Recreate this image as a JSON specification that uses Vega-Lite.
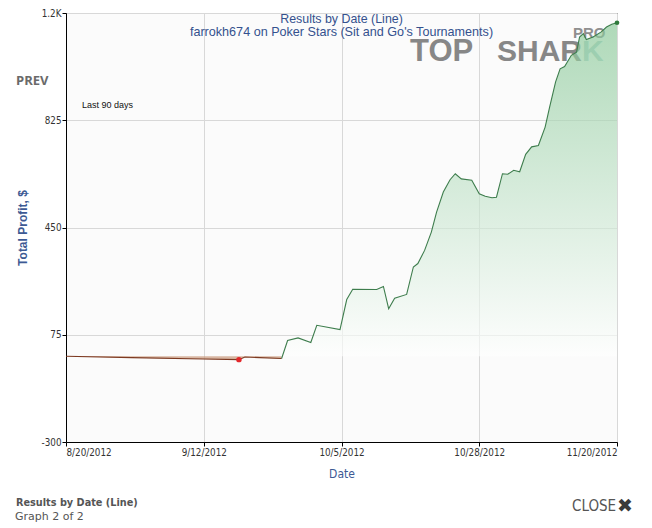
{
  "$schema": "https://vega.github.io/schema/vega-lite/v6.json",
  "width": 551,
  "height": 429,
  "autosize": "none",
  "padding": {"left": 66, "top": 13, "right": 35, "bottom": 86},
  "background": "white",
  "config": {
    "view": {"stroke": "#000000", "strokeWidth": 1, "fill": "#fbfbfb"},
    "axis": {
      "labelFont": "DejaVu Sans Condensed, sans-serif",
      "labelFontSize": 9.8,
      "labelColor": "#333333",
      "tickColor": "#000000",
      "tickSize": 4,
      "domainColor": "#000000",
      "gridColor": "#d8d8d8",
      "gridWidth": 1,
      "titleFont": "Liberation Sans, Arial, sans-serif",
      "titleFontSize": 12,
      "titleFontWeight": "bold",
      "titleColor": "#3d5a94"
    }
  },
  "datasets": {
    "profit": [
      {"date": "2012-08-20T00:00:00", "value": 0, "seg": "neg"},
      {"date": "2012-08-31T00:00:00", "value": -5, "seg": "neg"},
      {"date": "2012-09-11T21:00:00", "value": -10, "seg": "neg"},
      {"date": "2012-09-17T21:00:00", "value": -12, "seg": "neg"},
      {"date": "2012-09-18T21:00:00", "value": -3, "seg": "neg"},
      {"date": "2012-09-21T09:00:00", "value": -5, "seg": "neg"},
      {"date": "2012-09-25T00:00:00", "value": -8, "seg": "neg"},
      {"date": "2012-09-25T00:00:00", "value": -8, "seg": "pos"},
      {"date": "2012-09-26T00:00:00", "value": 55, "seg": "pos"},
      {"date": "2012-09-27T18:00:00", "value": 64, "seg": "pos"},
      {"date": "2012-09-29T21:00:00", "value": 48, "seg": "pos"},
      {"date": "2012-09-30T21:00:00", "value": 108, "seg": "pos"},
      {"date": "2012-10-04T18:00:00", "value": 93, "seg": "pos"},
      {"date": "2012-10-05T21:00:00", "value": 198, "seg": "pos"},
      {"date": "2012-10-06T21:00:00", "value": 234, "seg": "pos"},
      {"date": "2012-10-10T21:00:00", "value": 233, "seg": "pos"},
      {"date": "2012-10-12T00:00:00", "value": 244, "seg": "pos"},
      {"date": "2012-10-12T21:00:00", "value": 166, "seg": "pos"},
      {"date": "2012-10-13T21:00:00", "value": 203, "seg": "pos"},
      {"date": "2012-10-15T21:00:00", "value": 216, "seg": "pos"},
      {"date": "2012-10-17T00:00:00", "value": 312, "seg": "pos"},
      {"date": "2012-10-17T18:00:00", "value": 324, "seg": "pos"},
      {"date": "2012-10-18T21:00:00", "value": 370, "seg": "pos"},
      {"date": "2012-10-20T00:00:00", "value": 434, "seg": "pos"},
      {"date": "2012-10-20T21:00:00", "value": 504, "seg": "pos"},
      {"date": "2012-10-22T00:00:00", "value": 574, "seg": "pos"},
      {"date": "2012-10-23T03:00:00", "value": 617, "seg": "pos"},
      {"date": "2012-10-24T00:00:00", "value": 638, "seg": "pos"},
      {"date": "2012-10-25T00:00:00", "value": 620, "seg": "pos"},
      {"date": "2012-10-26T18:00:00", "value": 615, "seg": "pos"},
      {"date": "2012-10-28T00:00:00", "value": 568, "seg": "pos"},
      {"date": "2012-10-29T00:00:00", "value": 559, "seg": "pos"},
      {"date": "2012-10-30T03:00:00", "value": 554, "seg": "pos"},
      {"date": "2012-10-30T21:00:00", "value": 556, "seg": "pos"},
      {"date": "2012-10-31T21:00:00", "value": 638, "seg": "pos"},
      {"date": "2012-11-01T18:00:00", "value": 636, "seg": "pos"},
      {"date": "2012-11-02T18:00:00", "value": 650, "seg": "pos"},
      {"date": "2012-11-03T18:00:00", "value": 645, "seg": "pos"},
      {"date": "2012-11-04T18:00:00", "value": 706, "seg": "pos"},
      {"date": "2012-11-05T18:00:00", "value": 732, "seg": "pos"},
      {"date": "2012-11-06T21:00:00", "value": 737, "seg": "pos"},
      {"date": "2012-11-08T00:00:00", "value": 801, "seg": "pos"},
      {"date": "2012-11-08T18:00:00", "value": 871, "seg": "pos"},
      {"date": "2012-11-09T18:00:00", "value": 959, "seg": "pos"},
      {"date": "2012-11-10T12:00:00", "value": 1005, "seg": "pos"},
      {"date": "2012-11-11T06:00:00", "value": 1013, "seg": "pos"},
      {"date": "2012-11-12T09:00:00", "value": 1052, "seg": "pos"},
      {"date": "2012-11-13T06:00:00", "value": 1063, "seg": "pos"},
      {"date": "2012-11-13T18:00:00", "value": 1116, "seg": "pos"},
      {"date": "2012-11-14T09:00:00", "value": 1128, "seg": "pos"},
      {"date": "2012-11-14T21:00:00", "value": 1107, "seg": "pos"},
      {"date": "2012-11-16T00:00:00", "value": 1116, "seg": "pos"},
      {"date": "2012-11-17T09:00:00", "value": 1134, "seg": "pos"},
      {"date": "2012-11-18T06:00:00", "value": 1151, "seg": "pos"},
      {"date": "2012-11-19T03:00:00", "value": 1161, "seg": "pos"},
      {"date": "2012-11-20T00:00:00", "value": 1166, "seg": "pos"}
    ],
    "marks": [
      {"date": "2012-09-17T21:00:00", "value": -12, "kind": "min"},
      {"date": "2012-11-20T00:00:00", "value": 1166, "kind": "last"}
    ]
  },
  "layer": [
    {
      "data": {"values": [{"label": "TOP"}]},
      "mark": {"type": "text", "font": "Liberation Sans, Arial, sans-serif", "fontWeight": "bold", "fontSize": 31, "color": "#878787", "align": "left", "baseline": "alphabetic", "dx": -207, "dy": 47.5},
      "encoding": {
        "x": {"datum": {"year": 2012, "month": 11, "date": 20}, "type": "temporal"},
        "y": {"datum": 1200, "type": "quantitative"},
        "text": {"field": "label"}
      }
    },
    {
      "data": {"values": [{"label": "SHAR"}]},
      "mark": {"type": "text", "font": "Liberation Sans, Arial, sans-serif", "fontWeight": "bold", "fontSize": 30, "color": "#878787", "align": "left", "baseline": "alphabetic", "dx": -120, "dy": 47.5},
      "encoding": {
        "x": {"datum": {"year": 2012, "month": 11, "date": 20}, "type": "temporal"},
        "y": {"datum": 1200, "type": "quantitative"},
        "text": {"field": "label"}
      }
    },
    {
      "data": {"values": [{"label": "K"}]},
      "mark": {"type": "text", "font": "Liberation Sans, Arial, sans-serif", "fontWeight": "bold", "fontSize": 30, "color": "#b3d3d1", "align": "left", "baseline": "alphabetic", "dx": -35, "dy": 47.5},
      "encoding": {
        "x": {"datum": {"year": 2012, "month": 11, "date": 20}, "type": "temporal"},
        "y": {"datum": 1200, "type": "quantitative"},
        "text": {"field": "label"}
      }
    },
    {
      "data": {"values": [{"label": "PRO"}]},
      "mark": {"type": "text", "font": "Liberation Sans, Arial, sans-serif", "fontWeight": "bold", "fontSize": 15, "color": "#8f8f8f", "align": "left", "baseline": "alphabetic", "dx": -44, "dy": 25},
      "encoding": {
        "x": {"datum": {"year": 2012, "month": 11, "date": 20}, "type": "temporal"},
        "y": {"datum": 1200, "type": "quantitative"},
        "text": {"field": "label"}
      }
    },
    {
      "data": {"name": "profit"},
      "transform": [{"filter": "datum.seg === 'pos'"}],
      "mark": {
        "type": "area",
        "opacity": 0.65,
        "color": {
          "gradient": "linear",
          "x1": 0, "y1": 0, "x2": 0, "y2": 1,
          "stops": [
            {"offset": 0, "color": "#86c795"},
            {"offset": 1, "color": "#ffffff"}
          ]
        }
      },
      "encoding": {
        "x": {
          "field": "date", "type": "temporal",
          "scale": {"domain": [{"year": 2012, "month": 8, "date": 20}, {"year": 2012, "month": 11, "date": 20}], "nice": false},
          "axis": {
            "title": "Date",
            "titleFontWeight": "normal",
            "titleFont": "DejaVu Sans Condensed, sans-serif",
            "titleFontSize": 12,
            "titlePadding": 12,
            "values": [
              {"year": 2012, "month": 8, "date": 20},
              {"year": 2012, "month": 9, "date": 12},
              {"year": 2012, "month": 10, "date": 5},
              {"year": 2012, "month": 10, "date": 28},
              {"year": 2012, "month": 11, "date": 20}
            ],
            "format": "%-m/%-d/%Y",
            "labelOverlap": false,
            "labelBound": false,
            "labelPadding": 1,
            "grid": true
          }
        },
        "y": {
          "field": "value", "type": "quantitative",
          "scale": {"domain": [-300, 1200], "nice": false, "zero": false},
          "axis": {
            "title": "Total Profit, $",
            "titleX": -44,
            "titleBaseline": "middle",
            "values": [-300, 75, 450, 825, 1200],
            "labelExpr": "datum.value >= 1000 ? format(datum.value / 1000, '.1f') + 'K' : '' + datum.value",
            "labelPadding": 1,
            "grid": true
          }
        },
        "y2": {"datum": 0}
      }
    },
    {
      "data": {"name": "profit"},
      "transform": [{"filter": "datum.seg === 'neg'"}],
      "mark": {"type": "area", "color": "#c99a7e", "opacity": 0.7},
      "encoding": {
        "x": {"field": "date", "type": "temporal"},
        "y": {"field": "value", "type": "quantitative"},
        "y2": {"datum": 0}
      }
    },
    {
      "mark": {"type": "rule", "color": "#6e1c1c", "strokeWidth": 1.3},
      "encoding": {"y": {"datum": 0, "type": "quantitative"}}
    },
    {
      "data": {"name": "profit"},
      "mark": {"type": "line", "strokeWidth": 1.1},
      "encoding": {
        "x": {"field": "date", "type": "temporal"},
        "y": {"field": "value", "type": "quantitative"},
        "color": {"field": "seg", "type": "nominal", "scale": {"domain": ["neg", "pos"], "range": ["#7d3a22", "#3e7d4d"]}, "legend": null}
      }
    },
    {
      "data": {"name": "marks"},
      "transform": [{"filter": "datum.kind === 'min'"}],
      "mark": {"type": "point", "filled": true, "size": 30, "color": "#e3262a", "opacity": 1},
      "encoding": {
        "x": {"field": "date", "type": "temporal"},
        "y": {"field": "value", "type": "quantitative"}
      }
    },
    {
      "data": {"name": "marks"},
      "transform": [{"filter": "datum.kind === 'last'"}],
      "mark": {"type": "point", "filled": true, "size": 22, "color": "#2f7a3c", "opacity": 1},
      "encoding": {
        "x": {"field": "date", "type": "temporal"},
        "y": {"field": "value", "type": "quantitative"}
      }
    },
    {
      "data": {"values": [{"label": "Results by Date (Line)"}]},
      "mark": {"type": "text", "font": "Liberation Sans, Arial, sans-serif", "fontSize": 12.4, "color": "#34518e", "align": "center", "baseline": "alphabetic", "dy": 9.5},
      "encoding": {
        "x": {"datum": {"year": 2012, "month": 10, "date": 5}, "type": "temporal"},
        "y": {"datum": 1200, "type": "quantitative"},
        "text": {"field": "label"}
      }
    },
    {
      "data": {"values": [{"label": "farrokh674 on Poker Stars (Sit and Go's Tournaments)"}]},
      "mark": {"type": "text", "font": "Liberation Sans, Arial, sans-serif", "fontSize": 12.6, "color": "#34518e", "align": "center", "baseline": "alphabetic", "dy": 22.5},
      "encoding": {
        "x": {"datum": {"year": 2012, "month": 10, "date": 5}, "type": "temporal"},
        "y": {"datum": 1200, "type": "quantitative"},
        "text": {"field": "label"}
      }
    },
    {
      "data": {"values": [{"label": "Last 90 days"}]},
      "mark": {"type": "text", "font": "Liberation Sans, Arial, sans-serif", "fontSize": 9, "color": "#111111", "align": "left", "baseline": "middle", "dx": 16},
      "encoding": {
        "x": {"datum": {"year": 2012, "month": 8, "date": 20}, "type": "temporal"},
        "y": {"datum": 877, "type": "quantitative"},
        "text": {"field": "label"}
      }
    },
    {
      "data": {"values": [{"label": "PREV"}]},
      "mark": {"type": "text", "font": "Open Sans, Liberation Sans, sans-serif", "fontWeight": "bold", "fontSize": 13, "color": "#6a6a6a", "align": "left", "baseline": "middle", "dx": -50},
      "encoding": {
        "x": {"datum": {"year": 2012, "month": 8, "date": 20}, "type": "temporal"},
        "y": {"datum": 961, "type": "quantitative"},
        "text": {"field": "label"}
      }
    },
    {
      "data": {"values": [{"label": "Results by Date (Line)"}]},
      "mark": {"type": "text", "font": "DejaVu Sans Condensed, sans-serif", "fontWeight": "bold", "fontSize": 10.8, "color": "#555555", "align": "left", "baseline": "middle", "dx": -50, "dy": 61},
      "encoding": {
        "x": {"datum": {"year": 2012, "month": 8, "date": 20}, "type": "temporal"},
        "y": {"datum": -300, "type": "quantitative"},
        "text": {"field": "label"}
      }
    },
    {
      "data": {"values": [{"label": "Graph 2 of 2"}]},
      "mark": {"type": "text", "font": "DejaVu Sans, sans-serif", "fontSize": 11, "color": "#555555", "align": "left", "baseline": "middle", "dx": -51, "dy": 75},
      "encoding": {
        "x": {"datum": {"year": 2012, "month": 8, "date": 20}, "type": "temporal"},
        "y": {"datum": -300, "type": "quantitative"},
        "text": {"field": "label"}
      }
    },
    {
      "data": {"values": [{"label": "CLOSE"}]},
      "mark": {"type": "text", "font": "DejaVu Sans Condensed, sans-serif", "fontSize": 15, "color": "#555555", "align": "left", "baseline": "middle", "dx": -45, "dy": 64},
      "encoding": {
        "x": {"datum": {"year": 2012, "month": 11, "date": 20}, "type": "temporal"},
        "y": {"datum": -300, "type": "quantitative"},
        "text": {"field": "label"}
      }
    },
    {
      "data": {"values": [{"label": "✖"}]},
      "mark": {"type": "text", "font": "DejaVu Sans, sans-serif", "fontSize": 19, "color": "#3a3a3a", "align": "left", "baseline": "middle", "dx": 0, "dy": 64},
      "encoding": {
        "x": {"datum": {"year": 2012, "month": 11, "date": 20}, "type": "temporal"},
        "y": {"datum": -300, "type": "quantitative"},
        "text": {"field": "label"}
      }
    }
  ]
}
